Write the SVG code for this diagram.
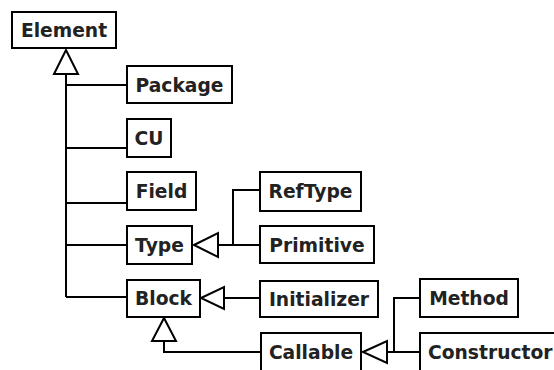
<svg xmlns="http://www.w3.org/2000/svg" width="554" height="370" viewBox="0 0 554 370">
  <style>
    .box { fill: #ffffff; stroke: #000000; stroke-width: 2; }
    .lbl { font-family: "DejaVu Sans", "Liberation Sans", sans-serif; font-size: 18.7px; font-weight: bold; fill: #222222; text-anchor: middle; }
    .edge { fill: none; stroke: #000000; stroke-width: 2; }
    .tri { fill: #ffffff; stroke: #000000; stroke-width: 2; stroke-linejoin: miter; }
  </style>
  <rect width="554" height="370" fill="#ffffff"/>

  <!-- inheritance connectors -->
  <g id="connectors">
    <!-- Element hierarchy trunk -->
    <path class="edge" d="M66 74 V297"/>
    <path class="edge" d="M66 85 H127"/>
    <path class="edge" d="M66 148 H127"/>
    <path class="edge" d="M66 203 H127"/>
    <path class="edge" d="M66 245 H127"/>
    <path class="edge" d="M66 297 H127"/>
    <polygon class="tri" points="66,50 54,74 78,74"/>

    <!-- Type subtypes -->
    <path class="edge" d="M218 245 H260"/>
    <path class="edge" d="M233 245 V190 H260"/>
    <polygon class="tri" points="194,245 218,233 218,257"/>

    <!-- Block subtypes -->
    <path class="edge" d="M224 298 H260"/>
    <polygon class="tri" points="201,298 224,287 224,309"/>
    <path class="edge" d="M164 341 V352 H261"/>
    <polygon class="tri" points="164,318 152,341 176,341"/>

    <!-- Callable subtypes -->
    <path class="edge" d="M387 352 H420"/>
    <path class="edge" d="M394 352 V298 H420"/>
    <polygon class="tri" points="363,352 387,341 387,363"/>
  </g>

  <g id="Element">
    <rect class="box" x="12" y="12" width="104" height="36"/>
    <text class="lbl" x="64" y="37">Element</text>
  </g>
  <g id="Package">
    <rect class="box" x="127" y="66" width="105" height="37"/>
    <text class="lbl" x="179.5" y="92">Package</text>
  </g>
  <g id="CU">
    <rect class="box" x="127" y="119" width="44" height="38"/>
    <text class="lbl" x="149" y="145">CU</text>
  </g>
  <g id="Field">
    <rect class="box" x="127" y="172" width="69" height="38"/>
    <text class="lbl" x="161.5" y="198">Field</text>
  </g>
  <g id="Type">
    <rect class="box" x="127" y="226" width="65" height="38"/>
    <text class="lbl" x="159.5" y="252">Type</text>
  </g>
  <g id="Block">
    <rect class="box" x="127" y="280" width="73" height="37"/>
    <text class="lbl" x="163.5" y="305">Block</text>
  </g>
  <g id="RefType">
    <rect class="box" x="260" y="172" width="101" height="39"/>
    <text class="lbl" x="310.5" y="198">RefType</text>
  </g>
  <g id="Primitive">
    <rect class="box" x="260" y="226" width="114" height="37"/>
    <text class="lbl" x="317" y="252">Primitive</text>
  </g>
  <g id="Initializer">
    <rect class="box" x="260" y="281" width="118" height="36"/>
    <text class="lbl" x="319" y="306">Initializer</text>
  </g>
  <g id="Callable">
    <rect class="box" x="261" y="333" width="100" height="38"/>
    <text class="lbl" x="311" y="359">Callable</text>
  </g>
  <g id="Method">
    <rect class="box" x="420" y="279" width="98" height="38"/>
    <text class="lbl" x="469" y="305">Method</text>
  </g>
  <g id="Constructor">
    <rect class="box" x="420" y="333" width="146" height="38"/>
    <text class="lbl" x="428" y="359" style="text-anchor:start">Constructor</text>
  </g>
</svg>
